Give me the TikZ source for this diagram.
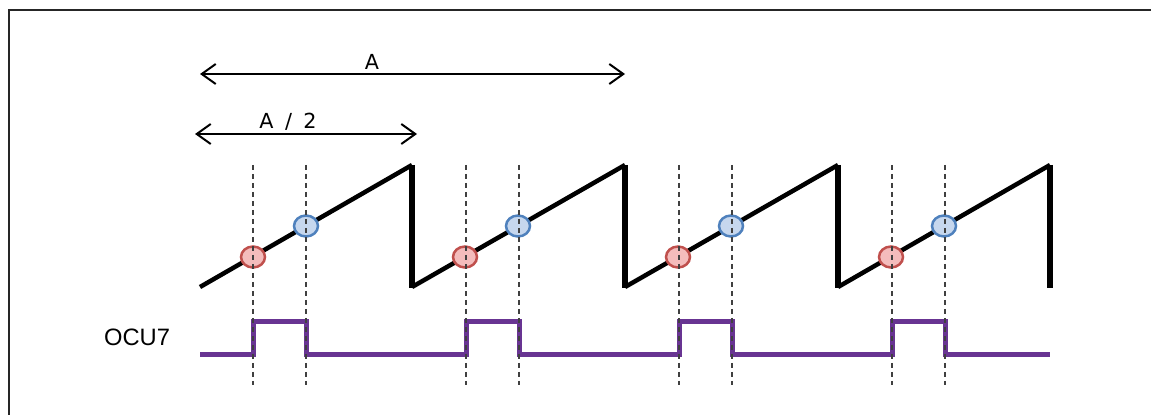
\documentclass[tikz,border=0pt]{standalone}
\usepackage{fontspec}
\setmainfont{Liberation Sans}
\newfontfamily\labfont{DejaVu Sans}
\usetikzlibrary{arrows.meta,shapes.geometric}
\definecolor{ocu}{RGB}{104,52,146}
\definecolor{redfill}{RGB}{244,188,188}
\definecolor{redline}{RGB}{192,80,77}
\definecolor{bluefill}{RGB}{198,215,238}
\definecolor{blueline}{RGB}{79,129,189}
\begin{document}
\begin{tikzpicture}[x=0.02cm,y=-0.02cm,
  frame/.style={line width=0.025cm,black!85},
  saw/.style={line width=0.09cm,black},
  drop/.style={line width=0.12cm,black},
  guide/.style={dash pattern=on 0.1cm off 0.08cm,line width=0.025cm,black!75},
  pulse/.style={line width=0.1cm,ocu,line join=miter},
  dim/.style={line width=0.04cm,{Straight Barb[length=0.28cm,width=0.4cm]}-{Straight Barb[length=0.28cm,width=0.4cm]}},
  dimlabel/.style={font=\labfont\fontsize{11.8}{14}\selectfont,inner sep=0pt},
  redpt/.style={ellipse,draw=redline,fill=redfill,line width=0.05cm,minimum width=0.48cm,minimum height=0.42cm,inner sep=0pt},
  bluept/.style={ellipse,draw=blueline,fill=bluefill,line width=0.05cm,minimum width=0.48cm,minimum height=0.42cm,inner sep=0pt},
  siglabel/.style={font=\fontsize{13.5}{16}\selectfont,inner sep=0pt}
]
\useasboundingbox (0,0) rectangle (1151,415);
\draw[frame] (9,415) -- (9,10) -- (1151,10);

% dimension arrows
\coordinate (aL) at (200,74);
\coordinate (aR) at (625,74);
\draw[dim] (aL) -- (aR);
\node[dimlabel] (lblA) at (372,62) {A};
\coordinate (hL) at (195,134);
\coordinate (hR) at (417,134);
\draw[dim] (hL) -- (hR);
\node[dimlabel] (lblH) at (288,122) {A\hspace{0.55em}/\hspace{0.55em}2};

% sawtooth
\foreach \s/\p in {200/412,412/625,625/838,838/1050}{
  \draw[saw] (\s,287) -- (\p,165);
  \draw[drop] (\p,165) -- (\p,288);
}
% sample points
\foreach \s [count=\i] in {200,412,625,838}{
  \node[redpt] (r\i) at (\s+53,257) {};
  \node[bluept] (b\i) at (\s+106,226) {};
}

% OCU7 signal
\node[siglabel] (ocu) at (137,337) {OCU7};
\draw[pulse] (200,354)
  -- (253,354) -- (253,321) -- (306,321) -- (306,354)
  -- (466,354) -- (466,321) -- (519,321) -- (519,354)
  -- (679,354) -- (679,321) -- (732,321) -- (732,354)
  -- (892,354) -- (892,321) -- (945,321) -- (945,354)
  -- (1050,354);

% guide lines
\foreach \x in {253,306,466,519,679,732,892,945}{
  \draw[guide] (\x,165) -- (\x,385);
}
\end{tikzpicture}
\end{document}
